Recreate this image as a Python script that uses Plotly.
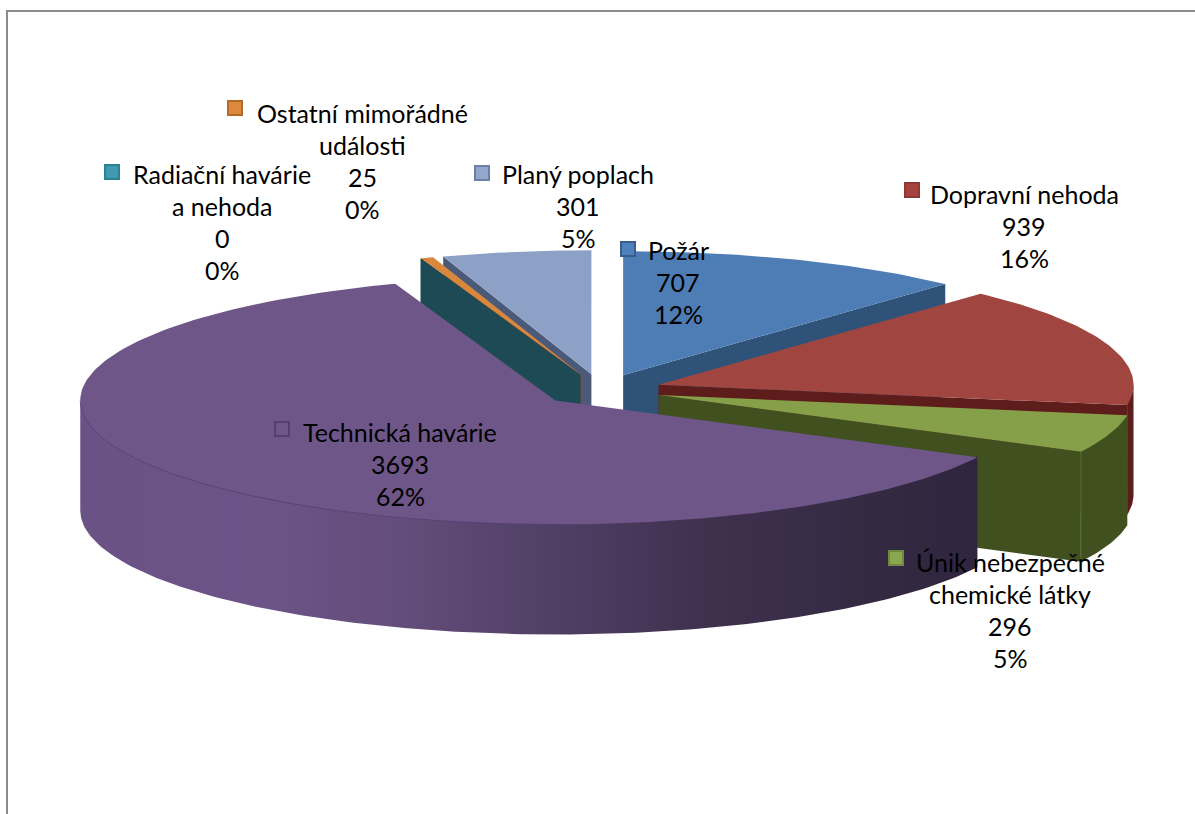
import math
import plotly.graph_objects as go

# ---- data ----
categories = ["Požár", "Dopravní nehoda", "Únik nebezpečné chemické látky",
              "Technická havárie", "Radiační havárie a nehoda",
              "Ostatní mimořádné události", "Planý poplach"]
values = [707, 939, 296, 3693, 0, 25, 301]
percent_labels = ["12%", "16%", "5%", "62%", "0%", "0%", "5%"]
name_lines = [["Požár"], ["Dopravní nehoda"], ["Únik nebezpečné", "chemické látky"],
              ["Technická havárie"], ["Radiační havárie", "a nehoda"],
              ["Ostatní mimořádné", "události"], ["Planý poplach"]]

# ---- styles ----
top_colors = ["#4e7db5", "#a0453f", "#86a04a", "#6e5689", "#3d9ab0", "#d9873c", "#8da1c6"]
wall_colors = ["#2f5378", "#5c1d1b", "#40501f", "#6a5285", "#1d4a54", "#7a4d22", "#4a5a78"]
key_fill = ["#4f81bd", "#a5443f", "#8aa64e", "#6e5689", "#3d9ab0", "#dd8a3f", "#93a6cc"]
key_line = ["#385d8a", "#8c3836", "#71893f", "#54406e", "#2f7f92", "#b56a2a", "#6d80a8"]
purple_gradient = [[0, "#6a5285"], [0.2, "#6c5488"], [0.36, "#634d7a"], [0.53, "#4f3f66"],
                   [0.69, "#40314f"], [0.92, "#32283f"], [1, "#2f2540"]]
paint_order = [6, 5, 4, 0, 1, 2, 3]

# ---- layout geometry (pixels of the chart area) ----
W, H = 1195, 814
CX, CY = 601.0, 390.0     # centre of the un-exploded pie
A, B = 475.0, 124.0       # ellipse radii
EXPLODE = 0.128           # share of the radius
DEPTH = 110.0             # wall height
FONT = "Lato"
FONT_SIZE = 25
LINE_GAP = 32
label_first_y = [250, 194, 562, 432, 174, 113, 174]
label_cx = [678, 1024, 1010, 400, 222, 362, 578]
key_xy = [(628, 249), (912, 190), (896, 558), (282, 429), (112, 172), (235, 108), (482, 173)]

total = sum(values)


def rim(apex, t):
    return apex[0] + A * math.sin(t), apex[1] - B * math.cos(t)


def arc(apex, t0, t1, dy=0.0):
    n = max(2, int(abs(t1 - t0) / math.radians(1)) + 2)
    pts = []
    for i in range(n):
        x, y = rim(apex, t0 + (t1 - t0) * i / (n - 1))
        pts.append((x, y + dy))
    return pts


def poly(pts, color=None, gradient=None):
    xs = [p[0] for p in pts] + [pts[0][0]]
    ys = [p[1] for p in pts] + [pts[0][1]]
    kw = dict(x=xs, y=ys, mode="lines", line=dict(width=0), fill="toself",
              hoverinfo="skip", showlegend=False)
    if gradient:
        kw["fillgradient"] = dict(type="horizontal", colorscale=gradient)
        kw["fillcolor"] = gradient[0][1]
    else:
        kw["fillcolor"] = color
    return go.Scatter(**kw)


def cut_wall(apex, t):
    a = apex
    r = rim(apex, t)
    return [a, r, (r[0], r[1] + DEPTH), (a[0], a[1] + DEPTH)]


slices = []
acc = 0.0
for v in values:
    t0 = 2 * math.pi * acc / total
    acc += v
    t1 = 2 * math.pi * acc / total
    mid = (t0 + t1) / 2
    apex = (CX + EXPLODE * A * math.sin(mid), CY - EXPLODE * B * math.cos(mid))
    slices.append((t0, t1, apex))

fig = go.Figure()
for i in paint_order:
    t0, t1, apex = slices[i]
    wall = wall_colors[i]
    # cut faces turned to the viewer
    if 0 < t1 < math.pi:
        fig.add_trace(poly(cut_wall(apex, t1), wall))
    if t0 > math.pi:
        fig.add_trace(poly(cut_wall(apex, t0), wall))
    # outer curved face (only the front half of the ellipse); slips under the top face
    a0, a1 = max(t0, math.pi / 2), min(t1, 3 * math.pi / 2)
    if a1 > a0:
        pts = arc(apex, a0, a1, -1.5) + arc(apex, a1, a0, DEPTH)
        if i == 3:
            fig.add_trace(poly(pts, gradient=purple_gradient))
        else:
            fig.add_trace(poly(pts, wall))
    # top face
    if t1 > t0:
        fig.add_trace(poly([apex] + arc(apex, t0, t1), top_colors[i]))
    # edge highlights
    if i == 2:
        x, y = rim(apex, t1)
        fig.add_trace(go.Scatter(x=[x, x], y=[y, y + DEPTH], mode="lines",
                                 line=dict(color="#5a6e33", width=1),
                                 hoverinfo="skip", showlegend=False))
    if i == 3:
        p = arc(apex, math.radians(180), math.radians(270))
        fig.add_trace(go.Scatter(x=[q[0] for q in p], y=[q[1] for q in p], mode="lines",
                                 line=dict(color="rgba(80,60,110,0.65)", width=1),
                                 hoverinfo="skip", showlegend=False))

# legend keys inside the data labels
for i, cat in enumerate(categories):
    fig.add_trace(go.Scatter(x=[key_xy[i][0]], y=[key_xy[i][1]], mode="markers", name=cat,
                             marker=dict(symbol="square", size=14, color=key_fill[i],
                                         line=dict(color=key_line[i], width=2)),
                             hoverinfo="skip", showlegend=False))

# data labels
annotations = []
for i in range(len(categories)):
    lines = name_lines[i] + [str(values[i]), percent_labels[i]]
    for j, txt in enumerate(lines):
        annotations.append(dict(x=label_cx[i], y=label_first_y[i] + j * LINE_GAP,
                                xref="x", yref="y", text=txt, showarrow=False,
                                xanchor="center", yanchor="middle",
                                font=dict(family=FONT, size=FONT_SIZE, color="#000000")))

fig.update_layout(
    width=W, height=H, autosize=False,
    margin=dict(l=0, r=0, t=0, b=0),
    paper_bgcolor="#ffffff", plot_bgcolor="#ffffff",
    showlegend=False,
    xaxis=dict(range=[0, W], visible=False, fixedrange=True),
    yaxis=dict(range=[H, 0], visible=False, fixedrange=True),
    annotations=annotations,
    shapes=[
        dict(type="line", xref="x", yref="y", x0=6, x1=W, y0=11, y1=11,
             line=dict(color="#8c8c8c", width=2)),
        dict(type="line", xref="x", yref="y", x0=7, x1=7, y0=10, y1=H,
             line=dict(color="#8c8c8c", width=2)),
    ],
)
fig.write_html("out.html", config={"displayModeBar": False},
               post_script="document.body.style.margin='0';document.body.style.overflow='hidden';")
